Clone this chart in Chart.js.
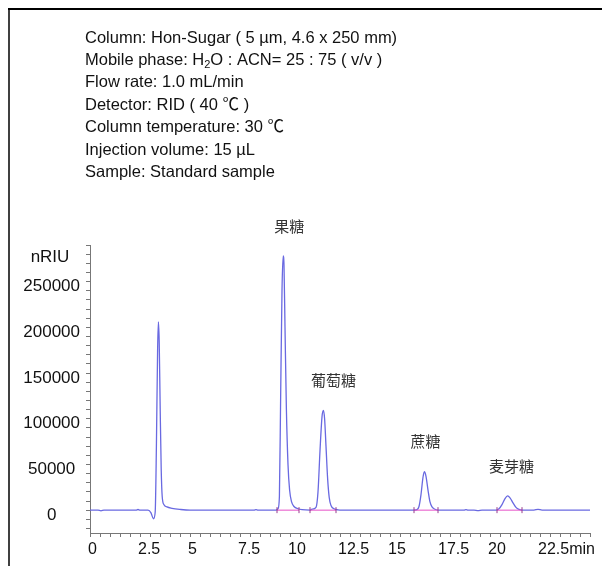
<!DOCTYPE html>
<html>
<head>
<meta charset="utf-8">
<script src="https://cdn.jsdelivr.net/npm/chart.js@4.4.1/dist/chart.umd.min.js"></script>
<style>
html, body { margin: 0; padding: 0; background: #fff; }
#wrap { width: 602px; height: 566px; position: relative; }
</style>
</head>
<body>
<div id="wrap"><canvas id="myChart"></canvas></div>
<script>
// conditions printed above the chromatogram
const headerLines = [
    'Column: Hon-Sugar ( 5 µm, 4.6 x 250 mm)',
    'Mobile phase: H_2O : ACN= 25 : 75 ( v/v )',
    'Flow rate: 1.0 mL/min',
    'Detector: RID ( 40 ℃ )',
    'Column temperature: 30 ℃',
    'Injection volume: 15 µL',
    'Sample: Standard sample'
];

// RID trace (time in min, signal in nRIU)
const traceTime = [0, 0.4, 0.55, 0.7, 2.3, 2.4, 2.5, 2.9, 3.05, 3.17, 3.26, 3.32, 3.38, 3.42, 3.46, 3.51, 3.56, 3.61, 3.7, 3.85, 4.1, 4.5, 5.0,
    8.2, 8.3, 8.4, 9.3, 9.4, 9.47, 9.53, 9.6, 9.66, 9.7, 9.75, 9.82, 9.9, 9.98, 10.08, 10.2, 10.4, 10.6,
    11.0, 11.1, 11.3, 11.4, 11.5, 11.6, 11.67, 11.73, 11.8, 11.88, 11.96, 12.05, 12.2, 12.4, 12.6,
    16.2, 16.35, 16.45, 16.55, 16.65, 16.72, 16.8, 16.9, 17.0, 17.1, 17.25, 17.45,
    18.7, 18.8, 18.9, 19.2, 19.4, 19.6,
    20.3, 20.45, 20.6, 20.75, 20.88, 21.0, 21.15, 21.3, 21.45, 21.6, 22.2, 22.4, 22.6, 25];
const traceSignal = [0, 0, -700, 0, 0, 700, 0, 0, -3000, -9500, -2000, 70000, 175000, 206000, 185000, 110000, 45000, 15000, 6000, 3500, 2000, 800, 0,
    0, 500, 0, 0, 1500, 15000, 120000, 240000, 278000, 268000, 200000, 110000, 50000, 22000, 9000, 4000, 1500, 500,
    0, 1000, 3000, 20000, 65000, 102000, 109000, 100000, 70000, 35000, 14000, 5000, 1500, 300, 0,
    0, 500, 4000, 17000, 36000, 42000, 37000, 22000, 9000, 3500, 1000, 0,
    0, 600, 0, 0, -600, 0,
    0, 1500, 6000, 12500, 15500, 13500, 8000, 3000, 800, 0, 0, 900, 0, 0];

// integration baselines (start / end time of each peak)
const baseStart = [9.35, 11.0, 16.2, 20.35];
const baseEnd = [10.45, 12.3, 17.4, 21.6];

// peak names
const peakNames = ['果糖', '葡萄糖', '蔗糖', '麦芽糖'];
const peakTimes = [9.66, 11.67, 16.72, 20.88];
const peakHeights = [278000, 109000, 42000, 15500];
const peakShift = [6, 10, 1, 4];

// axes
const xTickValues = [0, 2.5, 5, 7.5, 10, 12.5, 15, 17.5, 20, 22.5];
const xTickText = ['0', '2.5', '5', '7.5', '10', '12.5', '15', '17.5', '20', '22.5min'];
const yTickValues = [0, 50000, 100000, 150000, 200000, 250000];
const yMin = -25000, yMax = 290000, yMinorStep = 10000;

const fontFamily = '"Liberation Sans", Arial, sans-serif';

var tracePoints = traceTime.map((t, i) => ({ x: t, y: traceSignal[i] }));
var basePoints = [];
baseStart.forEach((s, i) => {
    basePoints.push({ x: s, y: 0 }, { x: baseEnd[i], y: 0 }, { x: baseEnd[i], y: null });
});

const decorPlugin = {
    id: 'decor',
    beforeDraw(chart) {
        const ctx = chart.ctx;
        ctx.save();
        ctx.fillStyle = '#fff';
        ctx.fillRect(0, 0, chart.width, chart.height);
        ctx.strokeStyle = '#000';
        ctx.lineWidth = 2;
        ctx.beginPath();
        ctx.moveTo(8, 9);
        ctx.lineTo(chart.width, 9);
        ctx.stroke();
        ctx.lineWidth = 1.5;
        ctx.beginPath();
        ctx.moveTo(9, 8);
        ctx.lineTo(9, chart.height);
        ctx.stroke();

        // header
        ctx.fillStyle = '#111';
        ctx.textBaseline = 'middle';
        ctx.textAlign = 'left';
        headerLines.forEach((line, i) => {
            const y = 38 + i * 22.4;
            let x = 85;
            line.split(/_(\d)/).forEach((part, j) => {
                if (j % 2 === 1) {
                    ctx.font = '11px ' + fontFamily;
                    ctx.fillText(part, x, y + 5);
                } else {
                    ctx.font = '16.5px "Liberation Sans", Arial, "Noto Sans CJK SC", sans-serif';
                    ctx.fillText(part, x, y);
                }
                x += ctx.measureText(part).width;
            });
        });
        ctx.restore();
    },
    afterDraw(chart) {
        const ctx = chart.ctx;
        const xs = chart.scales.x, ys = chart.scales.y;
        ctx.save();
        ctx.textAlign = 'center';
        ctx.textBaseline = 'middle';
        ctx.fillStyle = '#111';
        ctx.font = '17px ' + fontFamily;
        ctx.fillText('nRIU', chart.chartArea.left - 40, chart.chartArea.top + 12);

        ctx.fillStyle = '#333';
        ctx.font = '15px "Noto Sans CJK SC", sans-serif';
        peakNames.forEach((name, i) => {
            const px = xs.getPixelForValue(peakTimes[i]) + peakShift[i];
            const py = ys.getPixelForValue(peakHeights[i]) - 30;
            ctx.fillText(name, px, py);
        });
        ctx.restore();
    }
};

var chart = new Chart(document.getElementById('myChart').getContext('2d'), {
    type: 'line',
    data: {
        datasets: [{
            data: basePoints,
            borderColor: 'rgb(230, 80, 200)',
            borderWidth: 1,
            pointRadius: (c) => (c.raw && c.raw.y !== null ? 3 : 0),
            pointStyle: 'line',
            rotation: 90,
            pointBorderColor: 'rgb(150, 60, 140)',
            pointBorderWidth: 1,
            spanGaps: false
        }, {
            data: tracePoints,
            borderColor: 'rgb(105, 105, 225)',
            borderWidth: 1.3,
            pointRadius: 0,
            cubicInterpolationMode: 'monotone'
        }]
    },
    options: {
        responsive: true,
        maintainAspectRatio: false,
        animation: false,
        layout: { padding: { left: 10, right: 12, top: 245, bottom: 0 } },
        plugins: {
            legend: { display: false },
            tooltip: { enabled: false }
        },
        scales: {
            x: {
                type: 'linear',
                min: 0,
                max: 25,
                afterFit(scale) { scale.height = 33; },
                grid: { drawOnChartArea: false, tickLength: 4, tickColor: '#777' },
                border: { color: '#777', width: 1 },
                ticks: {
                    stepSize: 0.5,
                    autoSkip: false,
                    maxRotation: 0,
                    align: 'start',
                    labelOffset: -2,
                    padding: 3,
                    color: '#111',
                    font: { family: fontFamily, size: 16 },
                    callback(v) {
                        const i = xTickValues.findIndex(t => Math.abs(t - v) < 1e-6);
                        return i >= 0 ? xTickText[i] : '';
                    }
                }
            },
            y: {
                min: yMin,
                max: yMax,
                afterFit(scale) { scale.width = 80; },
                afterBuildTicks(scale) {
                    const ticks = [];
                    for (let v = Math.ceil(yMin / yMinorStep) * yMinorStep; v <= yMax; v += yMinorStep) {
                        ticks.push({ value: v });
                    }
                    scale.ticks = ticks;
                },
                grid: { drawOnChartArea: false, tickLength: 4, tickColor: '#777' },
                border: { color: '#777', width: 1 },
                ticks: {
                    autoSkip: false,
                    crossAlign: 'center',
                    labelOffset: 5,
                    padding: 6,
                    color: '#111',
                    font: { family: fontFamily, size: 17 },
                    callback(v) {
                        return yTickValues.includes(v) ? String(v) : '';
                    }
                }
            }
        }
    },
    plugins: [decorPlugin]
});
</script>
</body>
</html>
